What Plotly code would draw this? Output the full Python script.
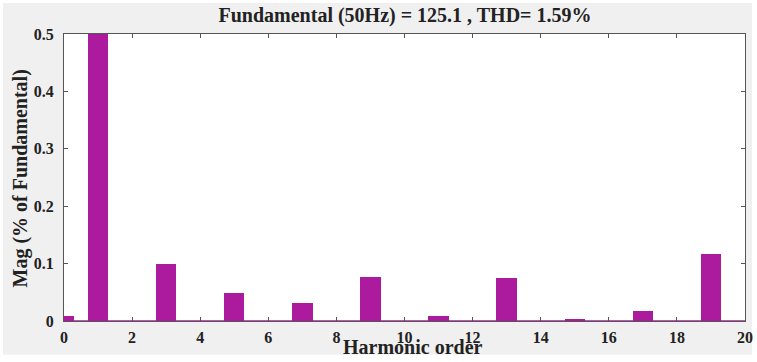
import plotly.graph_objects as go

# Harmonic spectrum (magnitude in % of fundamental)
harmonic_order = list(range(0, 21))
magnitude = [0.008, 100.0, 0.0, 0.100, 0.0, 0.049, 0.0, 0.032, 0.0, 0.077, 0.0,
             0.009, 0.0, 0.075, 0.0, 0.004, 0.0, 0.017, 0.0, 0.117, 0.0]
x_ticks = list(range(0, 21, 2))
y_ticks = [0, 0.1, 0.2, 0.3, 0.4, 0.5]

bar_color = "#ac1a9e"
font_family = "Liberation Serif"
text_color = "#222222"

fig = go.Figure()
fig.add_trace(go.Bar(
    x=harmonic_order, y=magnitude, width=0.6,
    marker=dict(color=bar_color, line=dict(width=0)),
    cliponaxis=True,
))

axis_common = dict(
    showline=True, linecolor="#555555", linewidth=1, mirror="allticks",
    ticks="inside", ticklen=4, tickcolor="#555555",
    showgrid=False, zeroline=False, automargin=False,
    tickfont=dict(family=font_family, size=16, color=text_color, weight="bold"),
)

white_edge = dict(type="rect", xref="paper", yref="paper",
                  fillcolor="#ffffff", line=dict(width=0), layer="below")

fig.update_layout(
    width=757, height=362,
    margin=dict(l=64, r=12, t=34, b=41),
    paper_bgcolor="#f0f0f0", plot_bgcolor="#ffffff",
    showlegend=False,
    bargap=0,
    title=dict(
        text="Fundamental (50Hz) = 125.1 , THD= 1.59%",
        x=0.535, xanchor="center", y=0.958, yanchor="middle",
        font=dict(family=font_family, size=20, color=text_color, weight="bold"),
    ),
    xaxis=dict(range=[0, 20], tickvals=x_ticks, ticklabelstandoff=2, **axis_common),
    yaxis=dict(range=[0, 0.5], tickvals=y_ticks, tickformat=".1~f",
               ticklabelstandoff=6, **axis_common),
    shapes=[
        # thin white border around the grey figure background
        dict(white_edge, x0=-0.2, x1=1.1, y0=-0.3, y1=-0.118),
        dict(white_edge, x0=1.0103, x1=1.1, y0=-0.3, y1=1.2),
        dict(white_edge, x0=-0.2, x1=1.1, y0=1.108, y1=1.2),
        dict(white_edge, x0=-0.2, x1=-0.0896, y0=-0.3, y1=1.2),
        # bar baseline
        dict(type="line", xref="x", yref="y", x0=0, x1=20, y0=0, y1=0,
             line=dict(color=bar_color, width=1.5), layer="above"),
    ],
    annotations=[
        dict(text="Harmonic order", xref="paper", yref="paper", x=0.5125, y=-0.092,
             xanchor="center", yanchor="middle", showarrow=False,
             font=dict(family=font_family, size=20, color=text_color, weight="bold")),
        dict(text="Mag (% of Fundamental)", xref="paper", yref="paper", x=-0.064, y=0.498,
             xanchor="center", yanchor="middle", showarrow=False, textangle=-90,
             font=dict(family=font_family, size=20, color=text_color, weight="bold")),
    ],
)

fig.write_html("out.html")
